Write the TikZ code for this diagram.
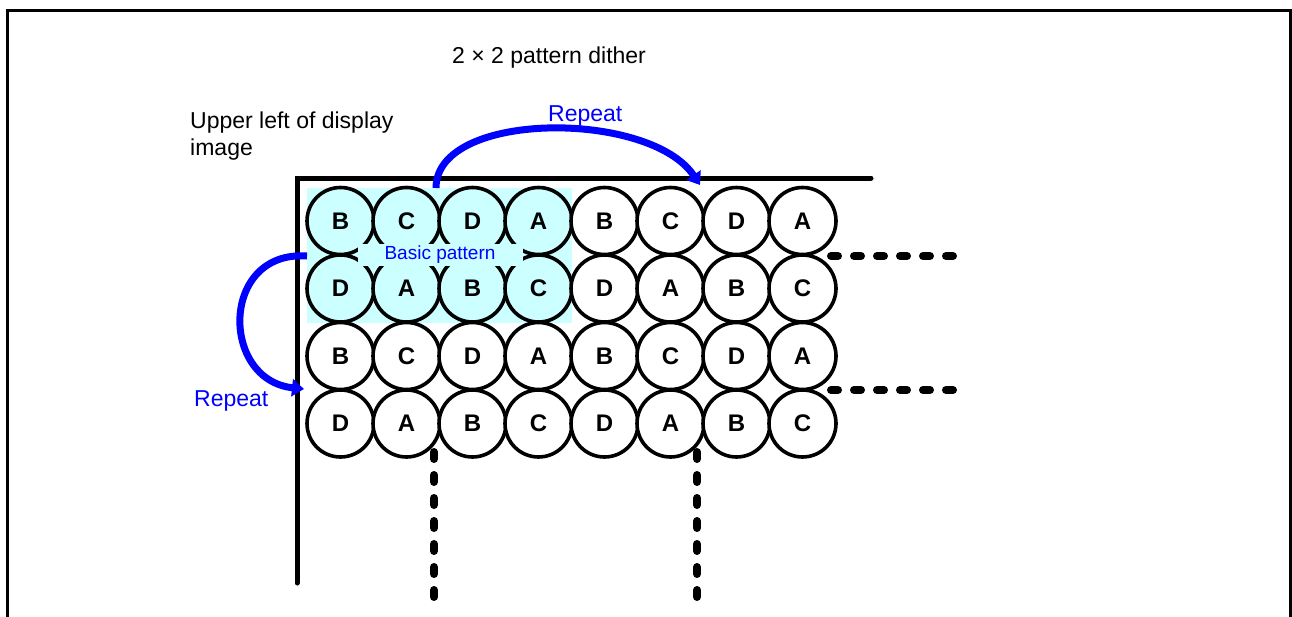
\documentclass[tikz,border=0pt]{standalone}
\usepackage{fontspec}
\setmainfont{Liberation Sans}
\usetikzlibrary{arrows.meta}
\definecolor{cyanfill}{HTML}{CCFFFF}
\definecolor{repblue}{HTML}{0000FF}
\begin{document}
\begin{tikzpicture}[x=1pt,y=-1pt,
  cell/.style={circle, draw=black, line width=3.6pt, minimum size=67pt, inner sep=0pt,
    font=\fontsize{24}{28}\selectfont\bfseries},
  basecell/.style={cell, fill=cyanfill},
  plaincell/.style={cell, fill=white},
  edge/.style={line width=5pt, line cap=round},
  dotline/.style={line width=8pt, line cap=round, dash pattern=on 7pt off 16pt},
  reparrow/.style={draw=repblue, line width=7pt, -{Triangle[length=12pt,width=17pt]}},
  lbl/.style={inner sep=0pt, font=\fontsize{23}{27}\selectfont},
  replbl/.style={lbl, text=repblue}
]
\useasboundingbox (0,0) rectangle (1292,616);
% outer frame (open at the bottom)
\draw[line width=3.5pt] (7.5,650) -- (7.5,10.5) -- (1290.5,10.5) -- (1290.5,650);

% basic pattern background
\fill[cyanfill] (307,188) rectangle (572,323);

% circles
\def\rowA{{"B","C","D","A","B","C","D","A"}}
\def\rowB{{"D","A","B","C","D","A","B","C"}}
\foreach \r/\y in {1/221,2/288.5,3/356,4/423.5}{
  \foreach \c in {1,...,8}{
    \pgfmathsetmacro{\xx}{340.5+66*(\c-1)}
    \pgfmathparse{(mod(\r,2)==1) ? \rowA[\c-1] : \rowB[\c-1]}
    \let\lt\pgfmathresult
    \ifnum\r<3 \ifnum\c<5
      \node[basecell] (c\r\c) at (\xx,\y) {\lt};
    \else
      \node[plaincell] (c\r\c) at (\xx,\y) {\lt};
    \fi\else
      \node[plaincell] (c\r\c) at (\xx,\y) {\lt};
    \fi
  }
}

% basic pattern label
\node[fill=cyanfill, minimum width=165pt, minimum height=22pt, inner sep=0pt,
      text=repblue, font=\fontsize{19}{22}\selectfont] (bp) at (440,255) {Basic pattern};

% display corner L-shape
\coordinate (lb) at (297,583);
\coordinate (lc) at (297,178);
\coordinate (lr) at (871,178);
\draw[edge] (lb) -- (lc) -- (lr);

% continuation dots
\coordinate (h1s) at (831,256); \coordinate (h1e) at (953,256);
\coordinate (h2s) at (831,390); \coordinate (h2e) at (953,390);
\coordinate (v1s) at (434,452); \coordinate (v1e) at (434,600);
\coordinate (v2s) at (697,452); \coordinate (v2e) at (697,600);
\draw[dotline] (h1s) -- (h1e);
\draw[dotline] (h2s) -- (h2e);
\draw[dotline] (v1s) -- (v1e);
\draw[dotline] (v2s) -- (v2e);

% texts
\node[lbl, anchor=base west] (title) at (452,63) {2 × 2 pattern dither};
\node[lbl, anchor=base west] (ul1) at (190,128) {Upper left of display};
\node[lbl, anchor=base west] (ul2) at (190,155) {image};
\node[replbl, anchor=base west] (rt) at (548,121) {Repeat};
\node[replbl, anchor=base west] (rl) at (194,406) {Repeat};

% repeat arrows
\coordinate (as) at (436,188);
\coordinate (ae) at (700,185);
\draw[reparrow] (as) .. controls (436,110) and (650,110) .. (ae);
\coordinate (bs) at (307,256);
\coordinate (be) at (304,389);
\draw[reparrow] (bs) .. controls (220,250) and (220,380) .. (be);
\end{tikzpicture}
\end{document}
